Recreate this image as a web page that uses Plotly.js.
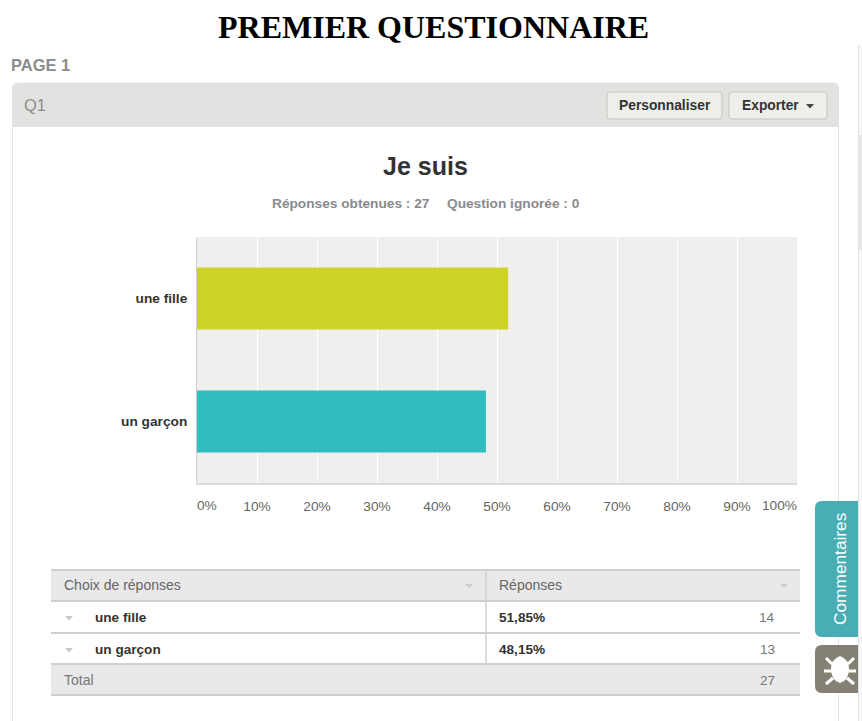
<!DOCTYPE html>
<html><head><meta charset="utf-8">
<script src="https://cdn.plot.ly/plotly-3.0.0.min.js"></script>
<style>html,body{margin:0;padding:0;background:#fff;overflow:hidden}#c{width:862px;height:721px}</style>
</head><body><div id="c"></div>
<script>
const categories = ['une fille', 'un garçon'];
const percents = [51.85, 48.15];
const percentLabels = ['51,85%', '48,15%'];
const counts = [14, 13];
const total = 27;
const barColors = ['#cfd327', '#32bcbf'];
const tickValues = [10, 20, 30, 40, 50, 60, 70, 80, 90];
const tickLabels = ['10%', '20%', '30%', '40%', '50%', '60%', '70%', '80%', '90%'];

const W = 862, H = 721, L = 197, R = 797, T = 237, B = 483;
const px = x => (x - L) / (R - L);
const py = y => (B - y) / (B - T);
const SANS = 'Liberation Sans, Arial, sans-serif';
const shapes = [], annotations = [];

function rect(x0, y0, x1, y1, fill, line, lw) {
  shapes.push({type:'rect', xref:'paper', yref:'paper', x0:px(x0), x1:px(x1), y0:py(y1), y1:py(y0),
    fillcolor:fill, line:{color:line || 'rgba(0,0,0,0)', width:line ? (lw || 1) : 0}, layer:'below'});
}
function hline(x0, x1, y, color, w) {
  shapes.push({type:'line', xref:'paper', yref:'paper', x0:px(x0), x1:px(x1), y0:py(y), y1:py(y),
    line:{color:color, width:w}, layer:'below'});
}
function vline(x, y0, y1, color, w) {
  shapes.push({type:'line', xref:'paper', yref:'paper', x0:px(x), x1:px(x), y0:py(y0), y1:py(y1),
    line:{color:color, width:w}, layer:'below'});
}
function pathOf(pts) {
  return pts.map((p, i) => {
    if (p[0] === 'Z') return 'Z';
    if (p[0] === 'Q') return 'Q' + p[1] + ',' + p[2] + ' ' + p[3] + ',' + p[4];
    return (i ? 'L' : 'M') + p[0] + ',' + p[1];
  }).join(' ');
}
function poly(pts, fill, line, lw) {
  const conv = pts.map(p => {
    if (p[0] === 'Z') return p;
    if (p[0] === 'Q') return ['Q', px(p[1]), py(p[2]), px(p[3]), py(p[4])];
    return [px(p[0]), py(p[1])];
  });
  shapes.push({type:'path', xref:'paper', yref:'paper', path:pathOf(conv), fillcolor:fill,
    line:{color:line || 'rgba(0,0,0,0)', width:line ? (lw || 1) : 0}, layer:'below'});
}
function round(x0, y0, x1, y1, r, fill, line, corners) {
  const c = corners || [1, 1, 1, 1];
  const a = [];
  a.push([x0 + (c[0] ? r : 0), y0]);
  a.push([x1 - (c[1] ? r : 0), y0]);
  if (c[1]) a.push(['Q', x1, y0, x1, y0 + r]);
  a.push([x1, y1 - (c[2] ? r : 0)]);
  if (c[2]) a.push(['Q', x1, y1, x1 - r, y1]);
  a.push([x0 + (c[3] ? r : 0), y1]);
  if (c[3]) a.push(['Q', x0, y1, x0, y1 - r]);
  a.push([x0, y0 + (c[0] ? r : 0)]);
  if (c[0]) a.push(['Q', x0, y0, x0 + r, y0]);
  a.push(['Z']);
  poly(a, fill, line);
}
function text(s, x, y, size, color, opts) {
  const o = opts || {};
  annotations.push({xref:'paper', yref:'paper', x:px(x), y:py(y), text:s, showarrow:false,
    xanchor:o.anchor || 'left', yanchor:'middle', textangle:o.angle || 0, borderpad:0, borderwidth:0,
    font:{family:o.family || SANS, size:size, color:color, weight:o.bold ? 700 : 400}});
}
function tri(cx, cy, color, hw) {
  const w = hw || 4;
  poly([[cx - w, cy - 2], [cx + w, cy - 2], [cx, cy + 2.5], ['Z']], color);
}

// Page heading
text('PREMIER QUESTIONNAIRE', 433.5, 27, 32, '#000', {anchor:'center', family:'Liberation Serif, Times New Roman, serif', bold:true});
text('PAGE 1', 11, 65, 16.5, '#8b8b8b', {bold:true});

// Question panel
round(12.5, 83, 838.5, 760, 6, 'rgba(0,0,0,0)', '#e4e4e2');
round(12, 83, 839, 127, 6, '#e2e2e0', null, [1, 1, 0, 0]);
text('Q1', 24, 105, 16.5, '#8d8d8d');
round(607, 92, 722, 119, 3, '#eeeeea', '#c4c4bf');
round(729, 92, 827, 119, 3, '#eeeeea', '#c4c4bf');
text('Personnaliser', 665, 105, 13.8, '#333', {anchor:'center', bold:true});
text('Exporter', 770, 105, 13.8, '#333', {anchor:'center', bold:true});
tri(810, 106, '#444');

// Subtitle
text('Réponses obtenues : 27', 351, 203, 13.7, '#8a8a8a', {anchor:'center', bold:true});
text('Question ignorée : 0', 513.5, 203, 13.7, '#8a8a8a', {anchor:'center', bold:true});

// End labels of the axis
text('0%', 197, 505.5, 13.7, '#666');
text('100%', 797, 505.5, 13.7, '#666', {anchor:'right'});

// Response table
rect(51, 570, 800, 601, '#e9e9e9');
rect(51, 664, 800, 695, '#e9e9e9');
[570, 601, 633, 664, 695].forEach(y => hline(51, 800, y, '#d0d0d0', 2));
vline(486, 570, 664, '#d0d0d0', 1.5);
text('Choix de réponses', 64, 585, 14, '#666');
text('Réponses', 499, 585, 14, '#666');
tri(469, 586, '#cfcfcf');
tri(784, 586, '#cfcfcf');
const rowY = [617, 649];
categories.forEach((c, i) => {
  tri(69, rowY[i] + 1, '#c9c9c9');
  text(c, 95, rowY[i], 13.6, '#333', {bold:true});
  text(percentLabels[i], 499, rowY[i], 13.6, '#333', {bold:true});
  text(String(counts[i]), 775, rowY[i], 13.6, '#777', {anchor:'right'});
});
text('Total', 64, 680, 14, '#777');
text(String(total), 775, 680, 13.6, '#777', {anchor:'right'});

// Right-hand side widgets
rect(858, 45, 862, 721, '#f8f8f8');
vline(858.5, 45, 721, '#e2e2e2', 1);
rect(859, 135, 862, 250, '#e6e6e6');
round(815, 501, 858, 637, 7, '#49aeb4', null, [1, 0, 0, 1]);
text('Commentaires', 840, 569, 17.3, '#fff', {anchor:'center', angle:-90});
round(815, 645, 858, 693, 7, '#848174', null, [1, 0, 0, 1]);
// Bug icon
poly([[840, 656], ['Q', 850, 660, 849, 670], ['Q', 848, 681, 840, 683], ['Q', 832, 681, 831, 670], ['Q', 830, 660, 840, 656], ['Z']], '#fff');
[[832, 664, 826, 658], [832, 671, 824, 671], [833, 678, 826, 684], [848, 664, 854, 658], [848, 671, 856, 671], [847, 678, 854, 684]].forEach(s => {
  poly([[s[0], s[1]], [s[2], s[3]]], 'rgba(0,0,0,0)', '#fff', 3);
});

const traces = [{
  type:'bar', orientation:'h', x:percents, y:categories,
  marker:{color:barColors, line:{width:0}}, hoverinfo:'skip', width:0.505
}];

const layout = {
  width:W, height:H, autosize:false, showlegend:false,
  paper_bgcolor:'#fff', plot_bgcolor:'#efefef',
  margin:{l:L, r:W - R, t:T, b:H - B, pad:0},
  title:{text:'Je suis', x:425.5 / W, xanchor:'center', xref:'container', y:1 - 166 / H, yanchor:'middle', yref:'container',
    font:{family:SANS, size:25, color:'#333', weight:700}},
  xaxis:{range:[0, 100], fixedrange:true, tickmode:'array', tickvals:tickValues, ticktext:tickLabels,
    showgrid:true, gridcolor:'#ffffff', gridwidth:1, zeroline:false, showline:true, linecolor:'#dcdcdc', linewidth:2,
    ticks:'outside', ticklen:10, tickcolor:'rgba(0,0,0,0)', tickfont:{family:SANS, size:13.7, color:'#666'}},
  yaxis:{type:'category', categoryorder:'array', categoryarray:categories, range:[1.5, -0.5], fixedrange:true,
    showgrid:false, zeroline:false, showline:true, linecolor:'#cfcfcf', linewidth:1,
    ticks:'outside', ticklen:6, tickcolor:'rgba(0,0,0,0)',
    tickfont:{family:SANS, size:13.7, color:'#333', weight:700}},
  shapes:shapes, annotations:annotations
};
Plotly.newPlot('c', traces, layout, {displayModeBar:false, staticPlot:true});
</script></body></html>
